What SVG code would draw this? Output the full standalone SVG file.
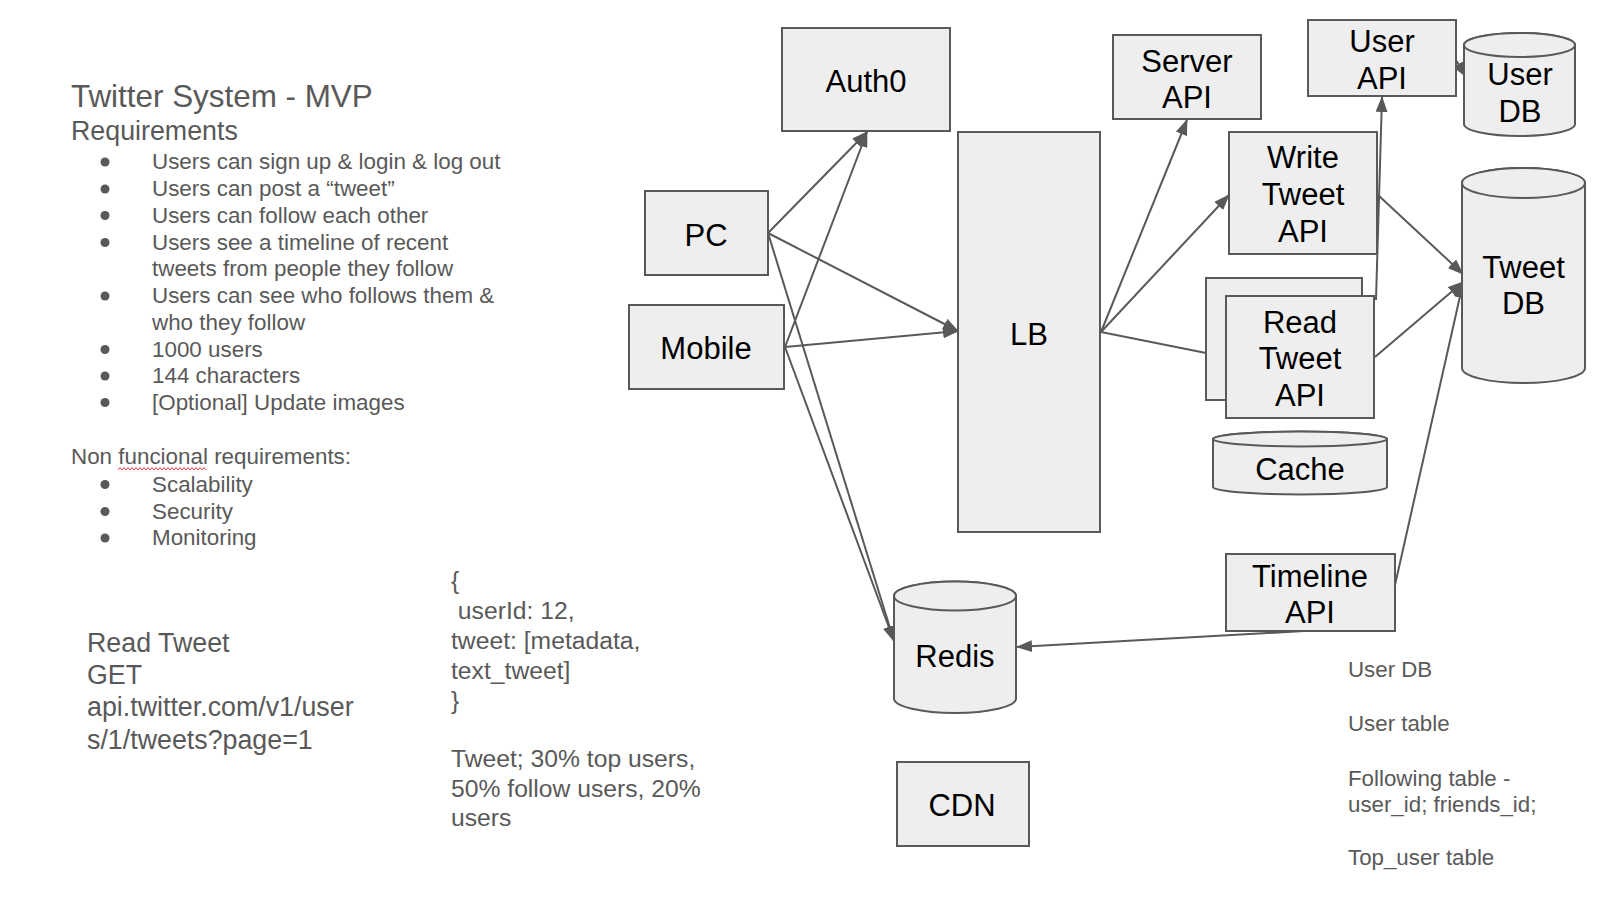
<svg xmlns="http://www.w3.org/2000/svg" width="1600" height="903" viewBox="0 0 1600 903">
<defs>
<style>
.box{fill:#eeeeee;stroke:#595959;stroke-width:2}
.lbl{font-family:"Liberation Sans",Arial,sans-serif;font-size:31px;fill:#000;text-anchor:middle}
.note{font-family:"Liberation Sans",Arial,sans-serif;fill:#595959}
.edge{stroke:#595959;stroke-width:2;fill:none}
.arr{marker-end:url(#ah)}
</style>
<marker id="ah" markerUnits="userSpaceOnUse" markerWidth="16" markerHeight="12" viewBox="0 0 16 12" refX="15" refY="6" orient="auto">
<path d="M0,0 L16,6 L0,12 z" fill="#595959"/>
</marker>
</defs>
<rect width="1600" height="903" fill="#ffffff"/>

<g id="notes-left" class="note">
<text x="71" y="107" font-size="31.4">Twitter System - MVP</text>
<text x="71" y="139.5" font-size="26.8">Requirements</text>
<g font-size="22.4">
<text x="152" y="169">Users can sign up &amp; login &amp; log out</text>
<text x="152" y="196">Users can post a “tweet”</text>
<text x="152" y="222.5">Users can follow each other</text>
<text x="152" y="249.5">Users see a timeline of recent</text>
<text x="152" y="276">tweets from people they follow</text>
<text x="152" y="303">Users can see who follows them &amp;</text>
<text x="152" y="329.5">who they follow</text>
<text x="152" y="356.5">1000 users</text>
<text x="152" y="383">144 characters</text>
<text x="152" y="409.5">[Optional] Update images</text>
<text x="71" y="464">Non funcional requirements:</text>
<text x="152" y="491.5">Scalability</text>
<text x="152" y="518.5">Security</text>
<text x="152" y="545">Monitoring</text>
</g>
<g fill="#595959">
<circle cx="105" cy="162" r="4.5"/>
<circle cx="105" cy="189" r="4.5"/>
<circle cx="105" cy="215.5" r="4.5"/>
<circle cx="105" cy="242.5" r="4.5"/>
<circle cx="105" cy="296" r="4.5"/>
<circle cx="105" cy="349.5" r="4.5"/>
<circle cx="105" cy="376" r="4.5"/>
<circle cx="105" cy="402.5" r="4.5"/>
<circle cx="105" cy="484.5" r="4.5"/>
<circle cx="105" cy="511.5" r="4.5"/>
<circle cx="105" cy="538" r="4.5"/>
</g>
<path d="M118,470 l2,-2.5 l2,2.5 l2,-2.5 l2,2.5 l2,-2.5 l2,2.5 l2,-2.5 l2,2.5 l2,-2.5 l2,2.5 l2,-2.5 l2,2.5 l2,-2.5 l2,2.5 l2,-2.5 l2,2.5 l2,-2.5 l2,2.5 l2,-2.5 l2,2.5 l2,-2.5 l2,2.5 l2,-2.5 l2,2.5 l2,-2.5 l2,2.5 l2,-2.5 l2,2.5 l2,-2.5 l2,2.5 l2,-2.5 l2,2.5 l2,-2.5 l2,2.5 l2,-2.5 l2,2.5 l2,-2.5 l2,2.5 l2,-2.5 l2,2.5 l2,-2.5 l2,2.5 l2,-2.5 l2,2.5" fill="none" stroke="#e04040" stroke-width="1"/>
</g>

<g id="notes-api" class="note" font-size="26.8">
<text x="87" y="651.5">Read Tweet</text>
<text x="87" y="683.5">GET</text>
<text x="87" y="716">api.twitter.com/v1/user</text>
<text x="87" y="748.5">s/1/tweets?page=1</text>
</g>

<g id="notes-json" class="note" font-size="24.7">
<text x="451" y="588.5">{</text>
<text x="451" y="618.5" xml:space="preserve"> userId: 12,</text>
<text x="451" y="648.5">tweet: [metadata,</text>
<text x="451" y="678.5">text_tweet]</text>
<text x="451" y="708.5">}</text>
<text x="451" y="766.5">Tweet; 30% top users,</text>
<text x="451" y="796.5">50% follow users, 20%</text>
<text x="451" y="826">users</text>
</g>

<g id="notes-db" class="note" font-size="22.3">
<text x="1348" y="676.5">User DB</text>
<text x="1348" y="730.5">User table</text>
<text x="1348" y="786">Following table -</text>
<text x="1348" y="811.5">user_id; friends_id;</text>
<text x="1348" y="865">Top_user table</text>
</g>

<g id="connectors">
<line class="edge arr" x1="768" y1="233" x2="867" y2="132"/>
<line class="edge arr" x1="785" y1="347" x2="867" y2="132"/>
<line class="edge arr" x1="768" y1="233" x2="958" y2="331"/>
<line class="edge arr" x1="785" y1="347" x2="958" y2="331"/>
<line class="edge arr" x1="768" y1="233" x2="894" y2="641"/>
<line class="edge arr" x1="785" y1="347" x2="894" y2="641"/>
<line class="edge arr" x1="1101" y1="332" x2="1187" y2="120"/>
<line class="edge arr" x1="1101" y1="332" x2="1229" y2="195"/>
<line class="edge" x1="1101" y1="332" x2="1206" y2="353"/>
<line class="edge arr" x1="1378" y1="195" x2="1463" y2="274"/>
<line class="edge arr" x1="1375" y1="357" x2="1463" y2="282"/>
<line class="edge arr" x1="1376" y1="300" x2="1382" y2="97"/>
<line class="edge arr" x1="1456" y1="60" x2="1466" y2="77"/>
<line class="edge arr" x1="1395" y1="585" x2="1463" y2="283"/>
<line class="edge arr" x1="1304" y1="631" x2="1017" y2="647"/>
</g>

<g id="auth0"><rect class="box" x="782" y="28" width="168" height="103"/><text class="lbl" x="866" y="91.5">Auth0</text></g>
<g id="pc"><rect class="box" x="645" y="191" width="123" height="84"/><text class="lbl" x="706" y="246">PC</text></g>
<g id="mobile"><rect class="box" x="629" y="305" width="155" height="84"/><text class="lbl" x="706" y="359">Mobile</text></g>
<g id="lb"><rect class="box" x="958" y="132" width="142" height="400"/><text class="lbl" x="1029" y="345">LB</text></g>
<g id="server-api"><rect class="box" x="1113" y="35" width="148" height="84"/><text class="lbl" x="1187" y="71.5">Server</text><text class="lbl" x="1187" y="108">API</text></g>
<g id="user-api"><rect class="box" x="1308" y="20" width="148" height="76"/><text class="lbl" x="1382" y="52">User</text><text class="lbl" x="1382" y="88.5">API</text></g>
<g id="user-db"><path class="box" d="M1464,45 A55.5,12 0 0 1 1575,45 V124 A55.5,12 0 0 1 1464,124 Z"/><ellipse class="box" cx="1519.5" cy="45" rx="55.5" ry="12"/><text class="lbl" x="1520" y="84.5">User</text><text class="lbl" x="1520" y="121.5">DB</text></g>
<g id="write-tweet-api"><rect class="box" x="1229" y="132" width="148" height="122"/><text class="lbl" x="1303" y="168">Write</text><text class="lbl" x="1303" y="205">Tweet</text><text class="lbl" x="1303" y="241.5">API</text></g>
<g id="read-tweet-api"><rect class="box" x="1206" y="278" width="156" height="122"/><rect class="box" x="1226" y="296" width="148" height="122"/><text class="lbl" x="1300" y="332.5">Read</text><text class="lbl" x="1300" y="369">Tweet</text><text class="lbl" x="1300" y="406">API</text></g>
<g id="cache"><path class="box" d="M1213,439 A87,7.5 0 0 1 1387,439 V487 A87,7.5 0 0 1 1213,487 Z"/><ellipse class="box" cx="1300" cy="439" rx="87" ry="7.5"/><text class="lbl" x="1300" y="479.5">Cache</text></g>
<g id="tweet-db"><path class="box" d="M1462,183 A61.5,15 0 0 1 1585,183 V368 A61.5,15 0 0 1 1462,368 Z"/><ellipse class="box" cx="1523.5" cy="183" rx="61.5" ry="15"/><text class="lbl" x="1523.5" y="277.5">Tweet</text><text class="lbl" x="1523.5" y="314">DB</text></g>
<g id="timeline-api"><rect class="box" x="1226" y="554" width="169" height="77"/><text class="lbl" x="1310" y="586.5">Timeline</text><text class="lbl" x="1310" y="623">API</text></g>
<g id="redis"><path class="box" d="M894,596 A61,14.5 0 0 1 1016,596 V698.5 A61,14.5 0 0 1 894,698.5 Z"/><ellipse class="box" cx="955" cy="596" rx="61" ry="14.5"/><text class="lbl" x="955" y="667">Redis</text></g>
<g id="cdn"><rect class="box" x="897" y="762" width="132" height="84"/><text class="lbl" x="962" y="816">CDN</text></g>
</svg>
